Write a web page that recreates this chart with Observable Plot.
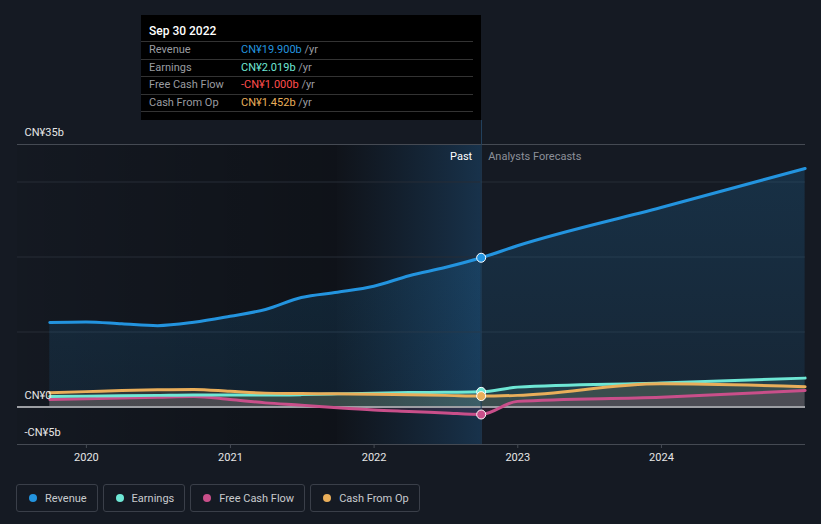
<!DOCTYPE html>
<html><head><meta charset="utf-8">
<script src="https://cdn.jsdelivr.net/npm/d3@7"></script>
<script src="https://cdn.jsdelivr.net/npm/@observablehq/plot@0.6"></script>
<style>
body{margin:0;background:#151a23;font-family:Roboto,"Noto Sans",sans-serif;}
#wrap{position:relative;width:821px;height:524px;overflow:hidden;}
#tip{position:absolute;top:15px;height:105px;background:#000;color:#fff;font-size:11px;box-sizing:border-box;}
#tip .h{position:absolute;left:8px;top:9px;font-size:12px;color:#fff;font-weight:500;}
#tip .row{position:absolute;left:0;width:332px;height:17px;border-top:1px solid #333;}
#tip .row > span{position:absolute;top:1px;white-space:nowrap;}
#tip .lbl{left:8px;color:#9a9ca0;}
#tip .val{left:100px;}
#tip .unit{color:#9a9ca0;}
#conn{position:absolute;top:120px;height:24px;width:1px;background:#22405c;}
#legend{position:absolute;top:484px;left:16px;display:flex;gap:5px;}
#legend .it{height:26px;border:1px solid #3a3f49;border-radius:3px;display:flex;align-items:center;padding:0 10px 0 12px;color:#c8cace;font-size:11px;box-sizing:content-box;white-space:nowrap;}
#legend .dot{width:8px;height:8px;border-radius:50%;margin-right:8px;}
</style></head><body><div id="wrap"></div>
<script>
// ---- data (CN¥ billions) ----
const pastDates = ["2019-09-30","2019-12-31","2020-03-31","2020-06-30","2020-09-30","2020-12-31","2021-03-31","2021-06-30","2021-09-30","2021-12-31","2022-03-31","2022-06-30","2022-09-30"];
const pastRevenue   = [11.27,11.35,11.1,10.85,11.3,12.1,13.0,14.6,15.3,16.1,17.5,18.6,19.9];
const pastEarnings  = [1.4,1.45,1.5,1.55,1.6,1.6,1.6,1.65,1.75,1.85,1.92,1.97,2.019];
const pastFCF       = [1.0,1.1,1.2,1.3,1.4,1.0,0.55,0.25,-0.1,-0.4,-0.6,-0.8,-1.0];
const pastCFO       = [1.9,2.05,2.2,2.3,2.35,2.1,1.85,1.8,1.76,1.7,1.62,1.55,1.452];
const forecastDates = ["2022-12-31","2023-12-31","2024-12-31"];
const fcRevenue  = [21.5,26.6,31.8];
const fcEarnings = [2.65,3.2,3.85];
const fcFCF      = [0.75,1.3,2.2];
const fcCFO      = [1.55,3.1,2.7];
const seriesNames  = ["Revenue","Earnings","Free Cash Flow","Cash From Op"];
const seriesColors = ["#2394df","#6ee7d5","#c94f8a","#e9ae5a"];
const tipValues = ["CN¥19.900b","CN¥2.019b","-CN¥1.000b","CN¥1.452b"];
const tipColors = ["#2394df","#6ee7d5","#ff4d4d","#e9ae5a"];
const tipDate = "2022-09-30";
const highlightStart = "2021-09-30";
const xDomain = ["2019-07-10","2025-01-01"];
const yTicks = [35,0,-5];
const yLabels = ["CN¥35b","CN¥0","-CN¥5b"];
const gridValues = [0,10,20,30];
const yearTicks = ["2020-01-01","2021-01-01","2022-01-01","2023-01-01","2024-01-01"];

// ---- build ----
const P = d3.timeParse("%Y-%m-%d");
const pastArr = [pastRevenue,pastEarnings,pastFCF,pastCFO];
const fcArr = [fcRevenue,fcEarnings,fcFCF,fcCFO];
const series = seriesNames.map((name,i)=>{
  const rows = pastDates.map((d,j)=>({date:P(d),value:pastArr[i][j],name}));
  forecastDates.forEach((d,j)=>rows.push({date:P(d),value:fcArr[i][j],name}));
  return rows;
});
const tD = P(tipDate), hD = P(highlightStart), dom = xDomain.map(P);
const curve = "monotone-x";

const marks = [
  Plot.rect([0],{x1:()=>dom[0],x2:()=>hD,y1:-5,y2:35,fill:"url(#pastGrad)"}),
  Plot.rect([0],{x1:()=>hD,x2:()=>tD,y1:-5,y2:35,fill:"url(#hlGrad)"}),
  Plot.ruleY(gridValues,{stroke:"#262c36",strokeWidth:1}),
  Plot.ruleY([35,-5],{stroke:"#454a53",strokeWidth:1}),
  Plot.areaY(series[0],{x:"date",y1:0,y2:"value",fill:"url(#revGrad)",curve}),
];
[1,3,2].forEach(i=>marks.push(Plot.areaY(series[i],{x:"date",y1:0,y2:"value",fill:seriesColors[i],fillOpacity:0.13,curve})));
marks.push(Plot.ruleY([0],{stroke:"#9c9ea3",strokeWidth:2}));
marks.push(Plot.ruleX([tD],{y1:-5,y2:35,stroke:"#22405c",strokeWidth:1}));
[0,2,1,3].forEach(i=>marks.push(Plot.line(series[i],{x:"date",y:"value",stroke:seriesColors[i],strokeWidth:3,curve})));
[0,2,1,3].forEach(i=>marks.push(Plot.dot(series[i].filter(d=>+d.date===+tD),{x:"date",y:"value",r:4.5,fill:seriesColors[i],stroke:"#fff",strokeWidth:1})));
marks.push(Plot.text(yTicks,{x:()=>dom[0],y:d=>d,text:(d,i)=>yLabels[i],dx:7,dy:-12,textAnchor:"start",fill:"#e6e6e6",fontSize:11}));
marks.push(Plot.text(["Past"],{x:()=>tD,y:35,text:d=>d,dx:-9,dy:12,textAnchor:"end",fill:"#ffffff",fontSize:11}));
marks.push(Plot.text(["Analysts Forecasts"],{x:()=>tD,y:35,text:d=>d,dx:7,dy:12,textAnchor:"start",fill:"#8c9099",fontSize:11}));
marks.push(Plot.axisX(yearTicks.map(P),{tickFormat:d3.timeFormat("%Y"),tickSize:4,stroke:"#454a53",color:"#e6e6e6",fontSize:11,tickPadding:5,label:null}));

const plot = Plot.plot({
  width:821,height:470,
  marginTop:144,marginBottom:26,marginLeft:17,marginRight:16,
  style:{background:"transparent",fontFamily:"Roboto, 'Noto Sans', sans-serif",overflow:"visible"},
  x:{type:"time",domain:dom},
  y:{domain:[-5,35],axis:null},
  marks
});
const svg = d3.select(plot);
const defs = svg.insert("defs",":first-child");
function grad(id,x2,y2,stops){
  const g = defs.append("linearGradient").attr("id",id).attr("x1",0).attr("y1",0).attr("x2",x2).attr("y2",y2);
  stops.forEach(s=>g.append("stop").attr("offset",s[0]).attr("stop-color",s[1]).attr("stop-opacity",s[2]));
}
grad("pastGrad",1,0,[[0,"#000",0.05],[1,"#000",0.3]]);
grad("hlGrad",1,0,[[0,"#000",0.25],[1,"#1f6aa8",0.3]]);
grad("revGrad",0,1,[[0,"#2394df",0.18],[1,"#2394df",0.1]]);

const wrap = document.getElementById("wrap");
wrap.appendChild(plot);
plot.style.position="absolute";plot.style.left="0";plot.style.top="0";

const xs = plot.scale("x");
const tx = Math.round(xs.apply(tD));
const tip = document.createElement("div");
tip.id="tip";tip.style.left=(tx-340)+"px";tip.style.width="340px";
let html = `<div class="h">${d3.timeFormat("%b %d %Y")(tD)}</div>`;
seriesNames.forEach((n,i)=>{
  html += `<div class="row" style="top:${26+i*17.5}px"><span class="lbl">${n}</span><span class="val"><span style="color:${tipColors[i]}">${tipValues[i]}</span> <span class="unit">/yr</span></span></div>`;
});
html += `<div class="row" style="top:${26+4*17.5}px;height:0"></div>`;
tip.innerHTML = html;
wrap.appendChild(tip);
const conn = document.createElement("div");
conn.id="conn";conn.style.left=(tx)+"px";
wrap.appendChild(conn);

const leg = document.createElement("div");
leg.id="legend";
leg.innerHTML = seriesNames.map((n,i)=>`<div class="it"><div class="dot" style="background:${seriesColors[i]}"></div>${n}</div>`).join("");
wrap.appendChild(leg);
</script></body></html>
